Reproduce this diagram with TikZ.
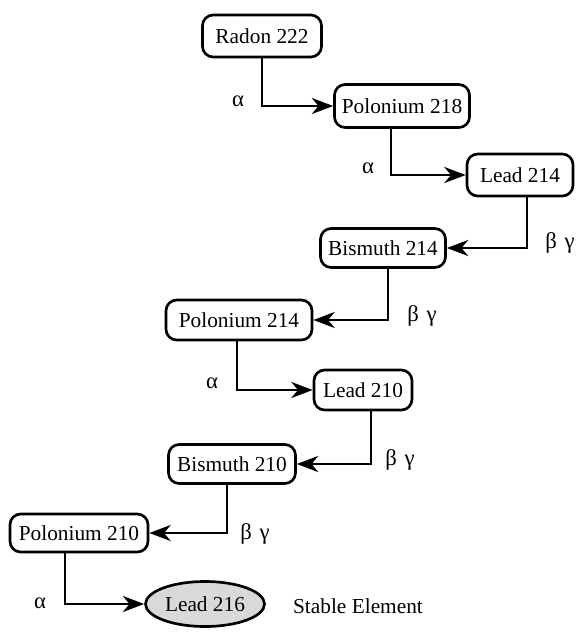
\documentclass[tikz,border=0pt]{standalone}
\usepackage{fontspec}
\setmainfont{Liberation Serif}
\usetikzlibrary{arrows.meta,shapes.geometric}
\begin{document}
\begin{tikzpicture}[x=0.75pt,y=-0.75pt,
  iso/.style={draw,line width=2pt,rounded corners=8pt,font=\fontsize{16}{19}\selectfont,inner sep=0pt},
  stab/.style={draw,ellipse,line width=2pt,fill=gray!30,font=\fontsize{16}{19}\selectfont,inner sep=0pt},
  arr/.style={line width=2.2pt,-{Stealth[length=16pt,width=12pt,inset=5pt]}},
  lab/.style={font=\fontsize{17}{20}\selectfont}]
\useasboundingbox (0,0) rectangle (579,632);
\node[iso,minimum width=89.25pt,minimum height=31.5pt] (rn222) at (262,36) {Radon 222};
\node[iso,minimum width=101.25pt,minimum height=32.25pt] (po218) at (402,106) {Polonium 218};
\node[iso,minimum width=79.5pt,minimum height=31.5pt] (pb214) at (520,175) {Lead 214};
\node[iso,minimum width=93.75pt,minimum height=29.25pt] (bi214) at (383,248) {Bismuth 214};
\node[iso,minimum width=109.5pt,minimum height=30pt] (po214) at (239,320) {Polonium 214};
\node[iso,minimum width=73.5pt,minimum height=30pt] (pb210) at (363,390) {Lead 210};
\node[iso,minimum width=95.25pt,minimum height=29.25pt] (bi210) at (232,464) {Bismuth 210};
\node[iso,minimum width=103.5pt,minimum height=28.5pt] (po210) at (79,533) {Polonium 210};
\node[stab,minimum width=89.25pt,minimum height=33.75pt] (pb216) at (205,604) {Lead 216};
\node[iso,draw=none,rounded corners=0pt] (stable) at (358,606) {Stable Element};
\draw[arr] (rn222.south) |- (po218.west);
\draw[arr] ([xshift=-11*0.75pt]po218.south) |- (pb214.west);
\draw[arr] ([xshift=7*0.75pt]pb214.south) |- (bi214.east);
\draw[arr] ([xshift=5*0.75pt]bi214.south) |- (po214.east);
\draw[arr] ([xshift=-2*0.75pt]po214.south) |- (pb210.west);
\draw[arr] ([xshift=8*0.75pt]pb210.south) |- (bi210.east);
\draw[arr] ([xshift=-5*0.75pt]bi210.south) |- (po210.east);
\draw[arr] ([xshift=-14*0.75pt]po210.south) |- (pb216.west);
\node[lab] (a1) at (238,101) {α};
\node[lab] (a2) at (368,168) {α};
\node[lab] (b1) at (560,243) {β\,\,γ};
\node[lab] (b2) at (422,316) {β\,\,γ};
\node[lab] (a3) at (212,383) {α};
\node[lab] (b3) at (400,460) {β\,\,γ};
\node[lab] (b4) at (255,534) {β\,\,γ};
\node[lab] (a4) at (40,603) {α};
\end{tikzpicture}
\end{document}
